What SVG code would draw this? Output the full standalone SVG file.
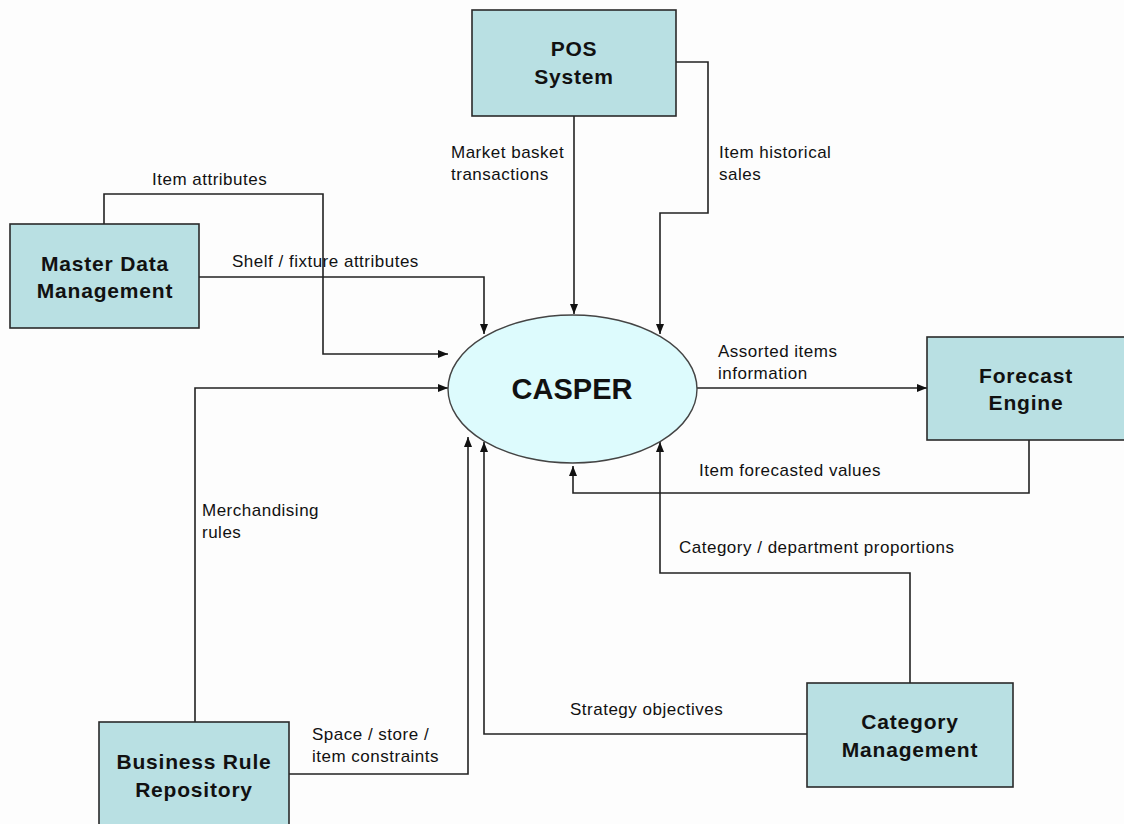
<svg xmlns="http://www.w3.org/2000/svg" width="1124" height="824" viewBox="0 0 1124 824">
<defs>
<style>
.box{fill:#b9e0e3;stroke:#2a2a2a;stroke-width:1.6}
.nt{font-family:"Liberation Sans",Arial,sans-serif;font-weight:bold;font-size:21px;letter-spacing:0.8px;fill:#111;text-anchor:middle}
.lb{font-family:"Liberation Sans",Arial,sans-serif;font-size:17px;letter-spacing:0.5px;fill:#111}
.cn{fill:none;stroke:#222;stroke-width:1.6;marker-end:url(#ah)}
</style>
<marker id="ah" markerUnits="userSpaceOnUse" markerWidth="10" markerHeight="10" viewBox="0 0 10 10" refX="10" refY="5" orient="auto">
<path d="M0,1 L10,5 L0,9 Z" fill="#111"/>
</marker>
</defs>
<rect width="1124" height="824" fill="#fdfdfd"/>
<g id="connectors">
<path class="cn" d="M104,224 V194 H323 V354 H448"/>
<path class="cn" d="M199,277 H484 V334"/>
<path class="cn" d="M574,116 V314"/>
<path class="cn" d="M676,62 H708 V213 H660 V334"/>
<path class="cn" d="M697,388 H927"/>
<path class="cn" d="M1029,440 V493 H573 V466"/>
<path class="cn" d="M910,683 V573 H660 V442"/>
<path class="cn" d="M807,734 H484 V442"/>
<path class="cn" d="M195,722 V388 H448"/>
<path class="cn" d="M289,774 H468 V437"/>
<text class="lb" x="152" y="185">Item attributes</text>
<text class="lb" x="232" y="267">Shelf / fixture attributes</text>
<text class="lb" x="451" y="158">Market basket</text>
<text class="lb" x="451" y="180">transactions</text>
<text class="lb" x="719" y="158">Item historical</text>
<text class="lb" x="719" y="180">sales</text>
<text class="lb" x="718" y="357">Assorted items</text>
<text class="lb" x="718" y="379">information</text>
<text class="lb" x="699" y="476">Item forecasted values</text>
<text class="lb" x="679" y="553">Category / department proportions</text>
<text class="lb" x="570" y="715">Strategy objectives</text>
<text class="lb" x="202" y="516">Merchandising</text>
<text class="lb" x="202" y="538">rules</text>
<text class="lb" x="312" y="740">Space / store /</text>
<text class="lb" x="312" y="762">item constraints</text>
</g>
<g id="pos">
<rect class="box" x="472" y="10" width="204" height="106"/>
<text class="nt" x="574" y="56">POS</text>
<text class="nt" x="574" y="84">System</text>
</g>
<g id="mdm">
<rect class="box" x="10" y="224" width="189" height="104"/>
<text class="nt" x="105" y="271">Master Data</text>
<text class="nt" x="105" y="298">Management</text>
</g>
<g id="casper">
<ellipse cx="572.5" cy="389" rx="124.5" ry="74" fill="#ddfbfd" stroke="#444" stroke-width="1.4"/>
<text x="572" y="399" font-family="'Liberation Sans',Arial,sans-serif" font-weight="bold" font-size="29" fill="#111" text-anchor="middle">CASPER</text>
</g>
<g id="forecast">
<rect class="box" x="927" y="337" width="200" height="103"/>
<text class="nt" x="1026" y="383">Forecast</text>
<text class="nt" x="1026" y="410">Engine</text>
</g>
<g id="brr">
<rect class="box" x="99" y="722" width="190" height="110"/>
<text class="nt" x="194" y="769">Business Rule</text>
<text class="nt" x="194" y="797">Repository</text>
</g>
<g id="catmgmt">
<rect class="box" x="807" y="683" width="206" height="104"/>
<text class="nt" x="910" y="729">Category</text>
<text class="nt" x="910" y="757">Management</text>
</g>
</svg>
